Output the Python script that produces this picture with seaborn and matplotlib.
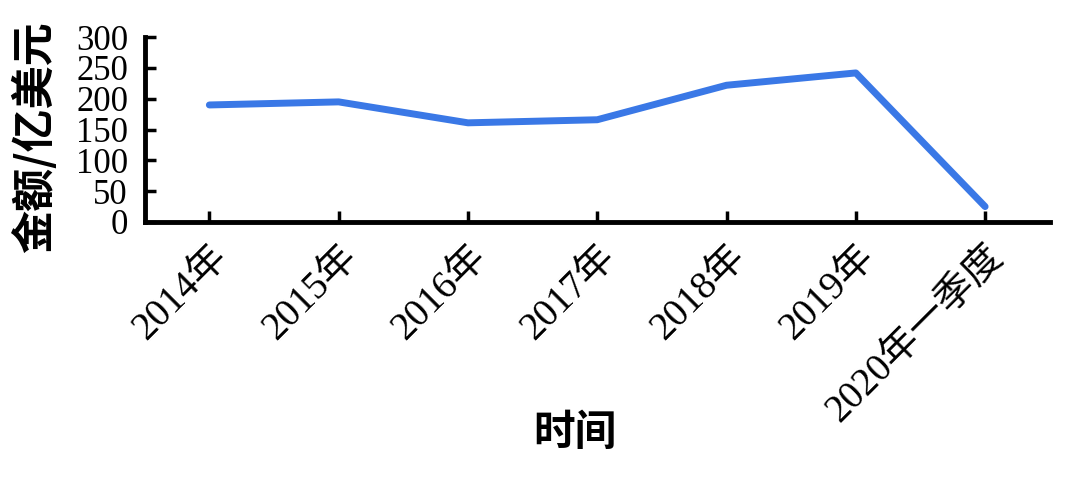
import pandas as pd
import seaborn as sns
import matplotlib.pyplot as plt
from matplotlib.transforms import ScaledTranslation

# 数据
periods = ['2014年', '2015年', '2016年', '2017年', '2018年', '2019年', '2020年一季度']
amounts = [190, 195, 161, 166, 222, 242, 25]
y_ticks = [0, 50, 100, 150, 200, 250, 300]

sns.set_theme(style='white')
plt.rcParams['font.family'] = ['Liberation Serif', 'Noto Sans CJK SC', 'DejaVu Sans']
plt.rcParams['axes.unicode_minus'] = False
plt.rcParams['text.color'] = 'black'
plt.rcParams['axes.labelcolor'] = 'black'

df = pd.DataFrame({'时间': periods, '金额': amounts})

fig = plt.figure(figsize=(10.8, 4.8), dpi=100)
ax = fig.add_axes([0.134, 0.5375, 0.838, 0.385])
sns.lineplot(data=df, x='时间', y='金额', sort=False, color='#3a78e6',
             linewidth=5, ax=ax)

ax.set_xlim(-0.5, len(periods) - 0.5)
ax.set_ylim(0, 300)
ax.set_yticks(y_ticks)
ax.set_yticklabels([str(v) for v in y_ticks], fontsize=25)
ax.set_xticks(range(len(periods)))
ax.set_xticklabels(periods, fontsize=28, rotation=45, ha='right',
                   rotation_mode='anchor')
# 标签稍向右偏移
shift = ScaledTranslation(18 / 72, 0, fig.dpi_scale_trans)
for lbl in ax.get_xticklabels():
    lbl.set_transform(lbl.get_transform() + shift)

for side in ['top', 'right']:
    ax.spines[side].set_visible(False)
for side in ['left', 'bottom']:
    ax.spines[side].set_linewidth(3.5)
    ax.spines[side].set_color('black')
ax.tick_params(axis='both', direction='in', length=8, width=2.5,
               colors='black', bottom=True, left=True)
ax.tick_params(axis='y', pad=12)
ax.tick_params(axis='x', pad=12)

ax.set_ylabel('金额/亿美元', fontsize=31, fontweight='bold', color='black',
              family=['Noto Sans CJK SC', 'DejaVu Sans'])
ax.set_xlabel('时间', fontsize=30, fontweight='bold', color='black',
              family=['Noto Sans CJK SC', 'DejaVu Sans'])
ax.xaxis.set_label_coords(0.475, -1.03)
ax.yaxis.set_label_coords(-0.097, 0.46)

fig.savefig('out.png', dpi=100)
